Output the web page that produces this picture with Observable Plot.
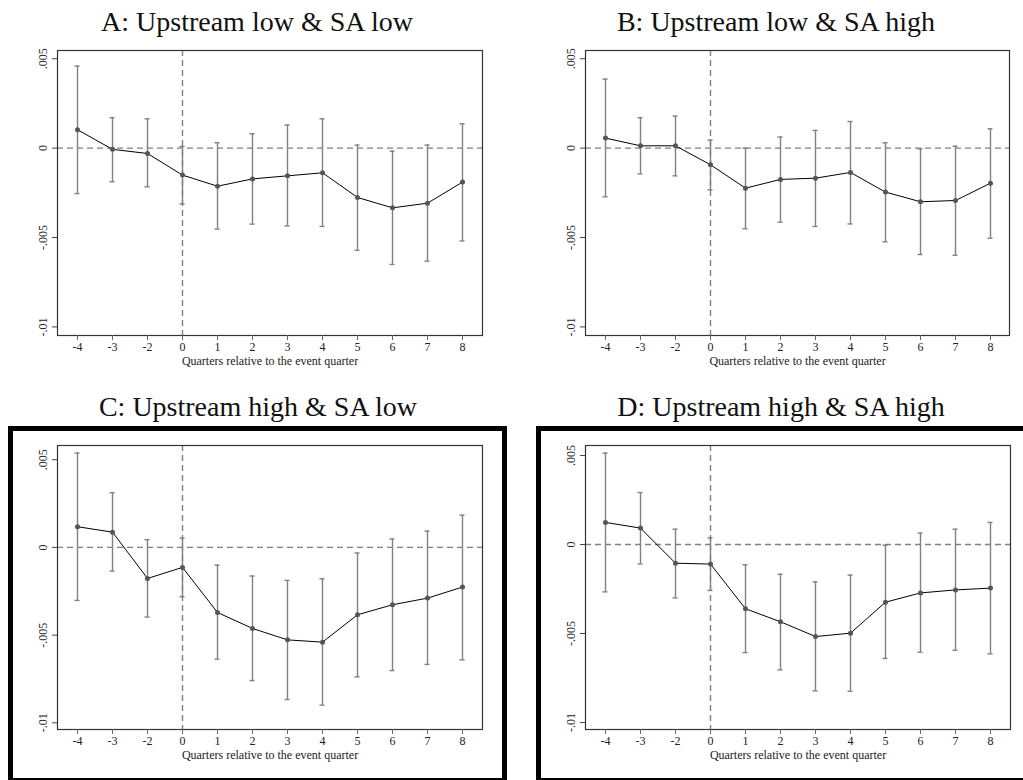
<!DOCTYPE html>
<html>
<head>
<meta charset="utf-8">
<script src="https://cdn.jsdelivr.net/npm/d3@7"></script>
<script src="https://cdn.jsdelivr.net/npm/@observablehq/plot@0.6"></script>
<style>
  html, body { margin: 0; padding: 0; background: #fff; }
  #page { position: relative; width: 1023px; height: 780px; overflow: hidden; background: #fff;
          font-family: "Liberation Serif", "Times New Roman", serif; }
  .title { position: absolute; width: 512px; text-align: center; font-size: 28px; line-height: 30px; color: #111; white-space: nowrap; }
  .panel { position: absolute; }
  .box { position: absolute; border: 5px solid #000; box-sizing: border-box; pointer-events: none; }
</style>
</head>
<body>
<div id="page"></div>
<script>
// ---- data ----
const quarters = [-4, -3, -2, 0, 1, 2, 3, 4, 5, 6, 7, 8];
const yTicks = [-0.01, -0.005, 0, 0.005];
const xLabel = "Quarters relative to the event quarter";
const titles = ["A: Upstream low & SA low", "B: Upstream low & SA high", "C: Upstream high & SA low", "D: Upstream high & SA high"];

const coefA = [0.00103, -0.00007, -0.0003, -0.00151, -0.00213, -0.00172, -0.00155, -0.00138, -0.00276, -0.00334, -0.00308, -0.0019];
const hiA   = [0.00459, 0.0017, 0.00164, 0.00009, 0.0003, 0.0008, 0.00129, 0.00164, 0.00017, -0.00017, 0.00017, 0.00136];
const loA   = [-0.00254, -0.00188, -0.00216, -0.00312, -0.00453, -0.00425, -0.00435, -0.00438, -0.00571, -0.00651, -0.00632, -0.00519];

const coefB = [0.00056, 0.00013, 0.00013, -0.00093, -0.00224, -0.00175, -0.00168, -0.00136, -0.00246, -0.003, -0.00293, -0.00196];
const hiB   = [0.00386, 0.0017, 0.00179, 0.00045, 0.0, 0.00062, 0.00099, 0.00149, 0.0003, -0.00004, 0.00011, 0.00108];
const loB   = [-0.00272, -0.00144, -0.00155, -0.00233, -0.00451, -0.00414, -0.00438, -0.00424, -0.00524, -0.00595, -0.00599, -0.00504];

const coefC = [0.00118, 0.00087, -0.00177, -0.00114, -0.00371, -0.00462, -0.00527, -0.0054, -0.00384, -0.00327, -0.00289, -0.00226];
const hiC   = [0.00538, 0.00312, 0.00044, 0.00053, -0.00101, -0.00163, -0.00188, -0.00179, -0.00032, 0.00048, 0.00093, 0.00184];
const loC   = [-0.00302, -0.00135, -0.00397, -0.00281, -0.00637, -0.00759, -0.00867, -0.00899, -0.00738, -0.00702, -0.00667, -0.00641];

const coefD = [0.00124, 0.00092, -0.00105, -0.0011, -0.00361, -0.00434, -0.00517, -0.00498, -0.00324, -0.00272, -0.00255, -0.00245];
const hiD   = [0.00513, 0.00292, 0.00086, 0.00037, -0.00114, -0.00167, -0.0021, -0.00172, -0.00004, 0.00064, 0.00086, 0.00124];
const loD   = [-0.00266, -0.00109, -0.003, -0.00258, -0.00607, -0.00704, -0.00822, -0.00824, -0.0064, -0.00605, -0.00594, -0.00614];

// ---- drawing ----
const fmt = d => d === 0 ? "0" : String(d).replace("0.", ".");
const barColor = "#808080";

function panel(coef, lo, hi, yDomain, opts) {
  const data = quarters.map((q, i) => ({q, b: coef[i], lo: lo[i], hi: hi[i]}));
  return Plot.plot({
    width: opts.width, height: opts.height,
    marginLeft: opts.ml, marginRight: opts.mr, marginTop: 10, marginBottom: opts.mb,
    x: {type: "point", domain: quarters, padding: 0.5, label: null},
    y: {domain: yDomain, label: null},
    style: {fontFamily: "'Liberation Serif', 'Times New Roman', serif", fontSize: "12px", background: "none", color: "#222"},
    marks: [
      Plot.ruleY([0], {stroke: barColor, strokeWidth: 1.4, strokeDasharray: "6,4"}),
      Plot.ruleX([0], {stroke: barColor, strokeWidth: 1.4, strokeDasharray: "6,4"}),
      Plot.ruleX(data, {x: "q", y1: "lo", y2: "hi", stroke: barColor, strokeWidth: 1.4}),
      Plot.ruleY(data, {y: "hi", x1: "q", x2: "q", stroke: barColor, strokeWidth: 1.4, insetLeft: -2.5, insetRight: -2.5}),
      Plot.ruleY(data, {y: "lo", x1: "q", x2: "q", stroke: barColor, strokeWidth: 1.4, insetLeft: -2.5, insetRight: -2.5}),
      Plot.line(data, {x: "q", y: "b", stroke: "#000", strokeWidth: 1}),
      Plot.dot(data, {x: "q", y: "b", r: 2.5, fill: "#555", stroke: null}),
      Plot.frame({stroke: "#333", strokeWidth: 1.2}),
      Plot.axisX({tickSize: 5, tickPadding: 2, label: null, stroke: "#666", fill: "#222"}),
      Plot.axisY({ticks: yTicks, tickSize: 5, tickFormat: () => "", label: null, stroke: "#444"}),
      Plot.text(yTicks, {y: d => d, text: fmt, frameAnchor: "left", dx: -14, rotate: -90, textAnchor: "middle", lineAnchor: "middle", fill: "#222"}),
      Plot.text([xLabel], {text: d => d, frameAnchor: "bottom", dy: 26, lineAnchor: "middle", textAnchor: "middle", fill: "#222"})
    ]
  });
}

const page = document.getElementById("page");
function place(el, left, top) {
  const wrap = document.createElement("div");
  wrap.className = "panel";
  wrap.style.left = left + "px";
  wrap.style.top = top + "px";
  wrap.appendChild(el);
  page.appendChild(wrap);
}
function addTitle(text, left, top) {
  const t = document.createElement("div");
  t.className = "title";
  t.textContent = text;
  t.style.left = left + "px";
  t.style.top = top + "px";
  page.appendChild(t);
}
function addBox(left, top, w, h) {
  const b = document.createElement("div");
  b.className = "box";
  b.style.left = left + "px"; b.style.top = top + "px";
  b.style.width = w + "px"; b.style.height = h + "px";
  page.appendChild(b);
}

addTitle(titles[0], 1, 7);
addTitle(titles[1], 520, 7);
addTitle(titles[2], 2, 392);
addTitle(titles[3], 525, 392);

addBox(8, 426, 499, 357);
addBox(536, 426, 492, 357);

place(panel(coefA, loA, hiA, [-0.01048, 0.00546], {width: 505, height: 335, ml: 57, mr: 23, mb: 40}), 0, 40);
place(panel(coefB, loB, hiB, [-0.01048, 0.00546], {width: 511, height: 335, ml: 73, mr: 14, mb: 40}), 512, 40);
place(panel(coefC, loC, hiC, [-0.01038, 0.00581], {width: 505, height: 334, ml: 57, mr: 23, mb: 40}), 0, 435);
place(panel(coefD, loD, hiD, [-0.01039, 0.00556], {width: 511, height: 334, ml: 73, mr: 13, mb: 40}), 512, 435);
</script>
</body>
</html>
